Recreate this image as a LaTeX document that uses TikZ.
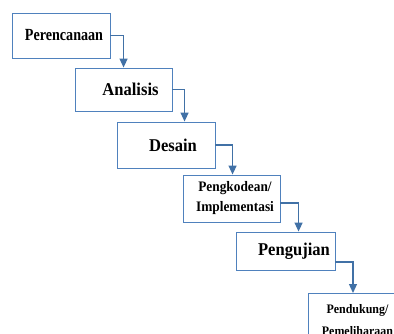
\documentclass[tikz,border=0pt]{standalone}
\usepackage{fontspec}
\setmainfont{Liberation Serif}[FakeStretch=0.92]
\newfontfamily\narrowserif{Liberation Serif}[FakeStretch=0.83]
\usetikzlibrary{arrows.meta}
\definecolor{boxblue}{RGB}{79,129,189}
\definecolor{arrowblue}{RGB}{65,113,166}
\tikzset{
  phase/.style={draw=boxblue, line width=0.9pt, inner sep=0pt, align=center,
    font=\bfseries\fontsize{18}{20}\selectfont},
  flow/.style={draw=arrowblue, line width=1.3pt,
    -{Triangle[width=8pt,length=9pt]}}
}
\begin{document}
\begin{tikzpicture}[x=1pt,y=-1pt]
\useasboundingbox (0,0) rectangle (394,334);
\clip (0,0) rectangle (394,334);
%Nodes
\node[phase, minimum width=98pt, minimum height=45pt, font=\narrowserif\bfseries\fontsize{17}{18}\selectfont] (nodePerencanaan) at (61,35.5) {\hspace*{6pt}Perencanaan};

\node[phase, minimum width=97pt, minimum height=43pt] (nodeAnalisis) at (123.5,89.5) {\hspace*{14pt}Analisis};

\node[phase, minimum width=98pt, minimum height=46pt] (nodeDesain) at (166,145) {\hspace*{14pt}Desain};

\node[phase, minimum width=97pt, minimum height=47pt, font=\bfseries\fontsize{14.5}{20}\selectfont] (nodePengkodean) at (231.5,198.5) {\hspace*{7pt}Pengkodean/\\\hspace*{7pt}Implementasi};

\node[phase, minimum width=99pt, minimum height=38pt] (nodePengujian) at (285.5,251) {\hspace*{17pt}Pengujian};

\node[phase, minimum width=98pt, anchor=north west, font=\bfseries\fontsize{13}{22}\selectfont] (nodePendukung) at (308,293) {\rule{0pt}{20pt}Pendukung/\\Pemeliharaan\rule[-30pt]{0pt}{0pt}};

%Lines
\draw[flow] (nodePerencanaan.east) -| ([xshift=49pt]nodeAnalisis.north west);

\draw[flow] (nodeAnalisis.east) -| ([xshift=68pt]nodeDesain.north west);

\draw[flow] (nodeDesain.east) -| ([xshift=50pt]nodePengkodean.north west);

\draw[flow] ([yshift=-4.5pt]nodePengkodean.east) -| ([xshift=63pt]nodePengujian.north west);

\draw[flow] ([yshift=-11pt]nodePengujian.east) -| ([xshift=45pt]nodePendukung.north west);
\end{tikzpicture}
\end{document}
